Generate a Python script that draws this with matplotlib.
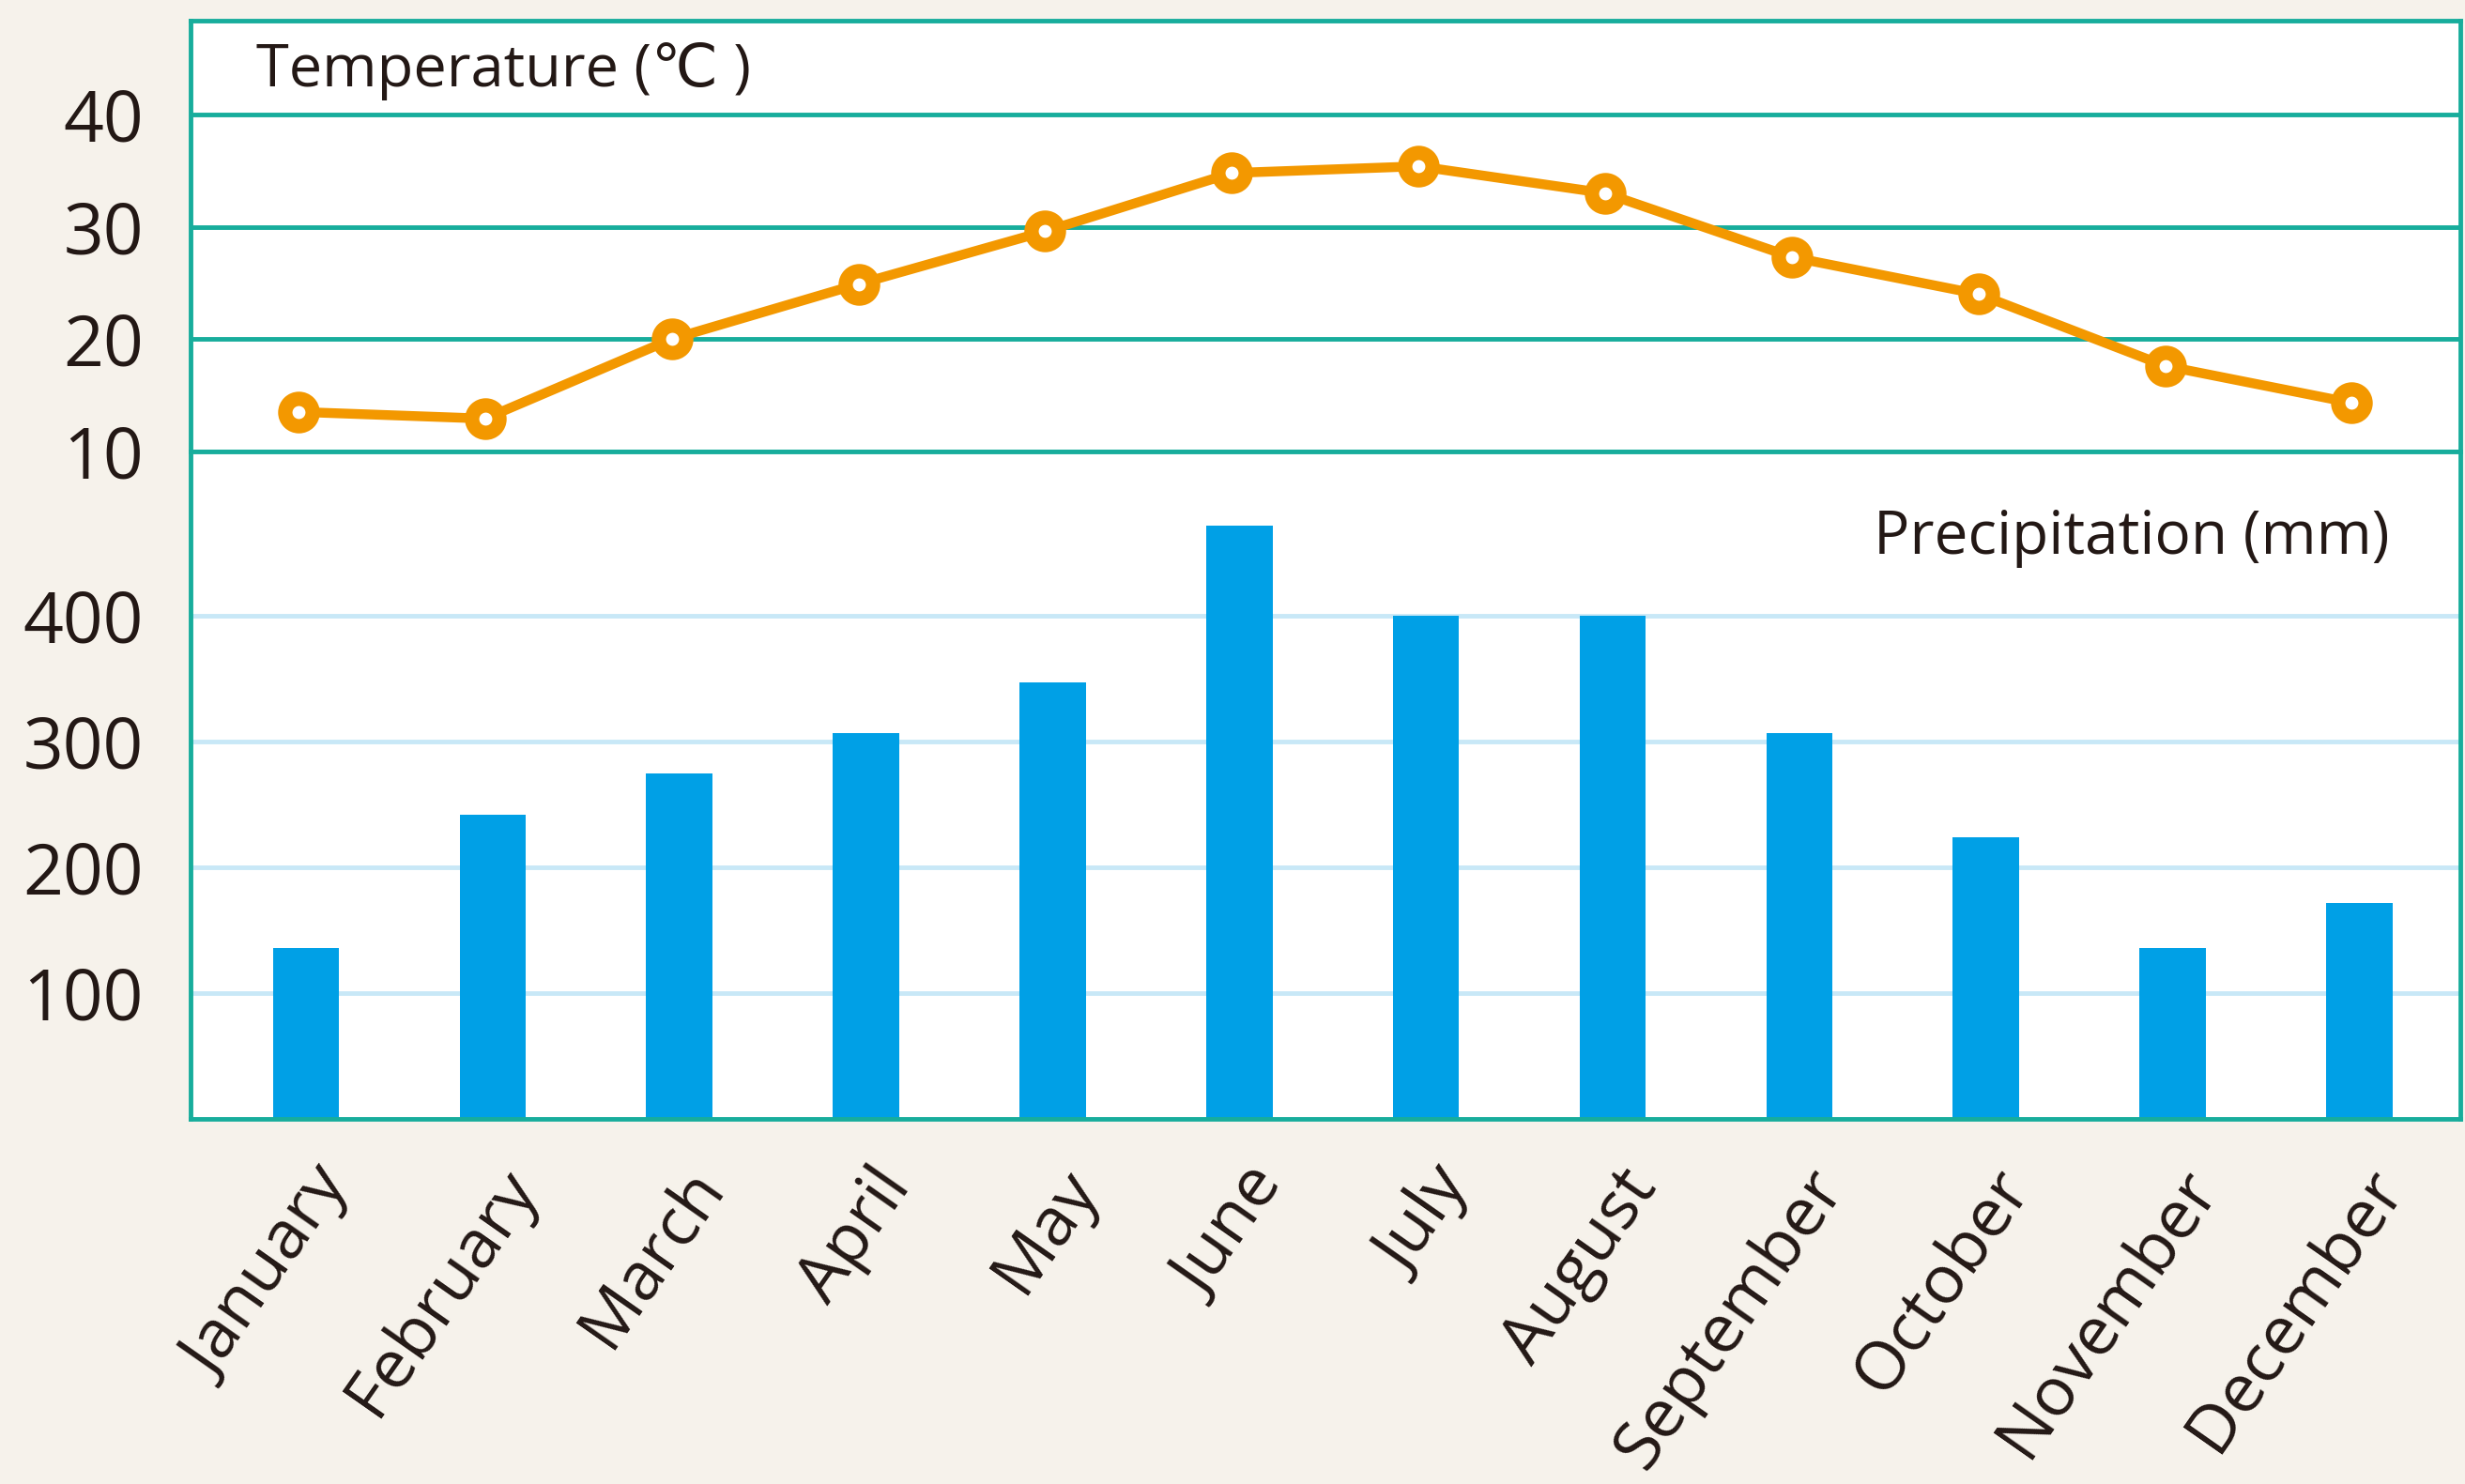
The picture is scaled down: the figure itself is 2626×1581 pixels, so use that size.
import numpy as np
import matplotlib.pyplot as plt
from matplotlib import transforms

months = ['January', 'February', 'March', 'April', 'May', 'June', 'July',
          'August', 'September', 'October', 'November', 'December']
temperature = [13.5, 12.9, 20.0, 24.9, 29.6, 34.8, 35.4, 33.0, 27.3, 24.0, 17.6, 14.3]
precipitation = [136, 242, 275, 307, 347, 472, 400, 400, 307, 224, 136, 172]
temp_ticks = [10, 20, 30, 40]
precip_ticks = [100, 200, 300, 400]

plt.rcParams['font.family'] = ['Open Sans', 'DejaVu Sans']

teal = '#17ad9c'
orange = '#f39800'
blue = '#00a0e6'
light_blue = '#c8e8f7'
bg = '#f6f2eb'
text_col = '#231815'

fig = plt.figure(figsize=(26.26, 15.81), dpi=100, facecolor=bg)
ax_t = fig.add_axes([0.0772, 0.696, 0.9208, 0.2902])
ax_p = fig.add_axes([0.0772, 0.2458, 0.9208, 0.4502], sharex=ax_t)

x = np.arange(len(months))

# temperature panel
ax_t.plot(x - 0.04, temperature, color=orange, lw=7.5, marker='o', ms=21,
          mfc='white', mec=orange, mew=11, zorder=3)
ax_t.set_ylim(10, 48.4)
ax_t.set_yticks(temp_ticks)
for t in temp_ticks:
    ax_t.axhline(t, color=teal, lw=3.5, zorder=1)
ax_t.text(0.029, 43.9, 'Temperature (℃ )', transform=transforms.blended_transform_factory(ax_t.transAxes, ax_t.transData),
          fontsize=45.5, color=text_col, va='center', ha='left')

# precipitation panel
ax_p.bar(x, precipitation, width=0.355, color=blue, zorder=2)
ax_p.set_ylim(0, 531)
ax_p.set_yticks(precip_ticks)
for p in precip_ticks:
    ax_p.axhline(p, color=light_blue, lw=3.5, zorder=1)
ax_p.text(0.969, 462, 'Precipitation (mm)', transform=transforms.blended_transform_factory(ax_p.transAxes, ax_p.transData),
          fontsize=46, color=text_col, va='center', ha='right')

ax_p.set_xlim(-0.62, 11.54)
ax_p.set_xticks(x)
ax_p.set_xticklabels(months, rotation=55, ha='right', va='center', rotation_mode='anchor',
                     fontsize=52, color=text_col)
plt.setp(ax_t.get_xticklabels(), visible=False)

for ax in (ax_t, ax_p):
    ax.set_facecolor('white')
    ax.tick_params(length=0, labelsize=54, colors=text_col, pad=36)
    ax.tick_params(axis='x', labelsize=52, pad=20)
    for s in ax.spines.values():
        s.set_color(teal)
        s.set_linewidth(3.5)

# nudge month labels right/down like the original
offset = transforms.ScaledTranslation(24 / 72, -24 / 72, fig.dpi_scale_trans)
for lab in ax_p.get_xticklabels():
    lab.set_transform(lab.get_transform() + offset)

fig.savefig('out.png', dpi=100, facecolor=bg)
